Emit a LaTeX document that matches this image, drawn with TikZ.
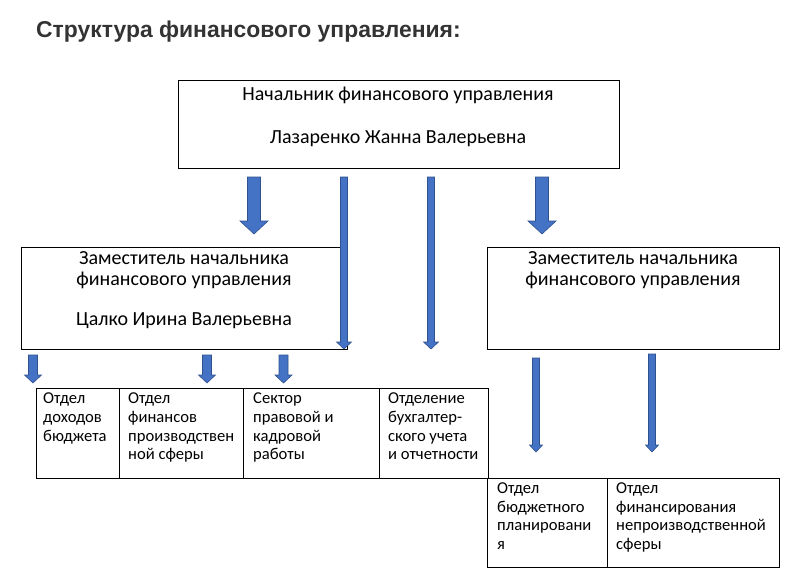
\documentclass[tikz,border=0pt]{standalone}
\usepackage{fontspec}
\setmainfont{Carlito}
\newfontfamily\titlefont{Liberation Sans}
\usetikzlibrary{calc}
\definecolor{arrowblue}{HTML}{4472C4}
\definecolor{arrowedge}{HTML}{2F528F}
\definecolor{titlegray}{HTML}{333333}
% #1 start coordinate, #2 tip coordinate, #3 shaft half width, #4 head half width, #5 head length
\newcommand{\blkarrow}[5]{%
  \path[blockarrow] let \p1=(#1), \p2=(#2) in
    (\x1-#3,\y1) -- (\x1+#3,\y1) -- (\x1+#3,\y2+#5) -- (\x1+#4,\y2+#5)
    -- (\x1,\y2) -- (\x1-#4,\y2+#5) -- (\x1-#3,\y2+#5) -- cycle;}
\begin{document}
\begin{tikzpicture}[x=1pt,y=-1pt,
  box/.style={draw=black,line width=1pt,rectangle,inner sep=0pt},
  blockarrow/.style={fill=arrowblue,draw=arrowedge,line width=0.6pt,line join=miter},
  bigtxt/.style={font=\fontsize{20}{24}\selectfont,inner sep=0pt,anchor=base},
  smalltxt/.style={font=\fontsize{16.6}{20}\selectfont,inner sep=0pt,anchor=base west},
  titletxt/.style={font=\titlefont\bfseries\fontsize{22.9}{27}\selectfont,text=titlegray,inner sep=0pt,anchor=base west}]
\useasboundingbox[fill=white] (0,0) rectangle (802,582);

\node[titletxt] (title) at (36,37) {Структура финансового управления:};

% boxes
\node[box,minimum width=441pt,minimum height=88pt] (top) at (398.5,124) {};
\node[box,minimum width=326pt,minimum height=102pt] (dep1) at (184,298) {};
\node[box,minimum width=292pt,minimum height=102pt] (dep2) at (633,298) {};
\node[box,minimum width=83pt,minimum height=90pt] (b1) at (77.5,433) {};
\node[box,minimum width=124pt,minimum height=90pt] (b2) at (181,433) {};
\node[box,minimum width=136pt,minimum height=90pt] (b3) at (311,433) {};
\node[box,minimum width=109pt,minimum height=90pt] (b4) at (433.5,433) {};
\node[box,minimum width=120pt,minimum height=89pt] (r1) at (547,522.5) {};
\node[box,minimum width=172pt,minimum height=89pt] (r2) at (693,522.5) {};

% texts
\node[bigtxt] (top1) at (398,100) {Начальник финансового управления};
\node[bigtxt] (top2) at (398,143) {Лазаренко Жанна Валерьевна};
\node[bigtxt] (d1a) at (184,264) {Заместитель начальника};
\node[bigtxt] (d1b) at (184,285) {финансового управления};
\node[bigtxt] (d1c) at (184,325) {Цалко Ирина Валерьевна};
\node[bigtxt] (d2a) at (633,264) {Заместитель начальника};
\node[bigtxt] (d2b) at (633,285) {финансового управления};

\node[smalltxt] (b1a) at (43,403) {Отдел};
\node[smalltxt] (b1b) at (43,422) {доходов};
\node[smalltxt] (b1c) at (43,441) {бюджета};
\node[smalltxt] (b2a) at (128,403) {Отдел};
\node[smalltxt] (b2b) at (128,422) {финансов};
\node[smalltxt] (b2c) at (128,441) {производствен};
\node[smalltxt] (b2d) at (128,459) {ной сферы};
\node[smalltxt] (b3a) at (253,403) {Сектор};
\node[smalltxt] (b3b) at (253,422) {правовой и};
\node[smalltxt] (b3c) at (253,441) {кадровой};
\node[smalltxt] (b3d) at (253,459) {работы};
\node[smalltxt] (b4a) at (388,403) {Отделение};
\node[smalltxt] (b4b) at (388,422) {бухгалтер-};
\node[smalltxt] (b4c) at (388,441) {ского учета};
\node[smalltxt] (b4d) at (388,459) {и отчетности};
\node[smalltxt] (r1a) at (497,493) {Отдел};
\node[smalltxt] (r1b) at (497,512) {бюджетного};
\node[smalltxt] (r1c) at (497,530) {планировани};
\node[smalltxt] (r1d) at (497,549) {я};
\node[smalltxt] (r2a) at (616,493) {Отдел};
\node[smalltxt] (r2b) at (616,512) {финансирования};
\node[smalltxt] (r2c) at (616,530) {непроизводственной};
\node[smalltxt] (r2d) at (616,549) {сферы};

% arrow end points
\coordinate (a1s) at (254,177);   \coordinate (a1e) at (254,234);
\coordinate (a2s) at (344,177);   \coordinate (a2e) at (344,349);
\coordinate (a3s) at (431,177);   \coordinate (a3e) at (431,349);
\coordinate (a4s) at (542,177);   \coordinate (a4e) at (542,234);
\coordinate (s1s) at (33,355);    \coordinate (s1e) at (33,383);
\coordinate (s2s) at (207,355);   \coordinate (s2e) at (207,383);
\coordinate (s3s) at (283.5,355); \coordinate (s3e) at (283.5,383);
\coordinate (r1s) at (536,358);   \coordinate (r1e) at (536,452);
\coordinate (r2s) at (652,354);   \coordinate (r2e) at (652,452);

\blkarrow{a1s}{a1e}{6.5pt}{14pt}{13pt}
\blkarrow{a4s}{a4e}{6.5pt}{14pt}{13pt}
\blkarrow{a2s}{a2e}{3.5pt}{7.5pt}{7pt}
\blkarrow{a3s}{a3e}{3.5pt}{7.5pt}{7pt}
\blkarrow{s1s}{s1e}{4.5pt}{8.5pt}{8pt}
\blkarrow{s2s}{s2e}{4.5pt}{8.5pt}{8pt}
\blkarrow{s3s}{s3e}{4.5pt}{8.5pt}{8pt}
\blkarrow{r1s}{r1e}{3.5pt}{6.5pt}{7pt}
\blkarrow{r2s}{r2e}{3.5pt}{6.5pt}{7pt}
\end{tikzpicture}
\end{document}
